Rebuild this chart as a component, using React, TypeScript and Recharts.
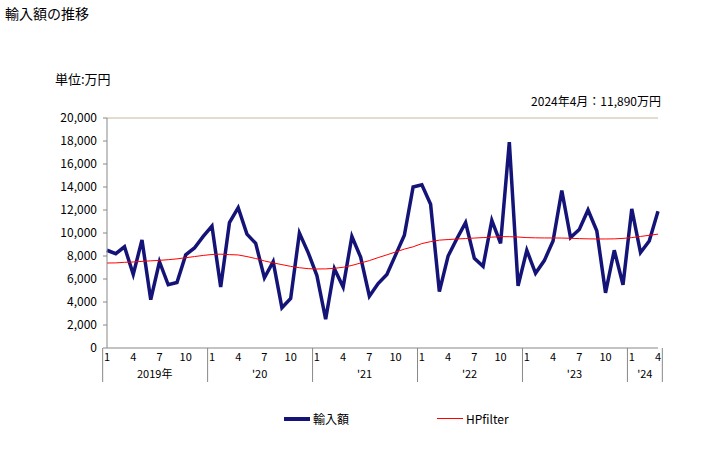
import { LineChart, Line, XAxis, YAxis, ReferenceLine } from "recharts";

// 2019/1 .. 2024/4 monthly imports (万円)
const YEARS = [2019, 2020, 2021, 2022, 2023, 2024];
const MONTH_COUNTS = [12, 12, 12, 12, 12, 4];
const YEAR_LABELS = ["2019年", "'20", "'21", "'22", "'23", "'24"];
const MONTH_TICKS = [1, 4, 7, 10];
const Y_TICKS = [0, 2000, 4000, 6000, 8000, 10000, 12000, 14000, 16000, 18000, 20000];

const IMPORTS = [
  8500, 8200, 8800, 6400, 9400, 4200, 7500, 5500, 5700, 8100, 8700, 9700,
  10600, 5300, 10900, 12200, 9900, 9100, 6100, 7500, 3500, 4300, 10000, 8300,
  6300, 2500, 6900, 5300, 9700, 7900, 4500, 5600, 6400, 8100, 9800, 14000,
  14200, 12500, 4900, 8000, 9500, 10900, 7800, 7100, 11100, 9100, 17900, 5400,
  8500, 6500, 7600, 9300, 13700, 9600, 10300, 12000, 10200, 4800, 8500, 5500,
  12100, 8300, 9300, 11890,
];

const HP = [
  7390, 7400, 7450, 7480, 7530, 7580, 7620, 7680, 7750, 7850, 7950, 8050,
  8130, 8160, 8120, 8090, 7950, 7780, 7570, 7400, 7250, 7100, 6980, 6900,
  6870, 6880, 6930, 7020, 7180, 7390, 7600, 7860, 8100, 8350, 8600, 8800,
  9080, 9250, 9380, 9430, 9480, 9520, 9560, 9600, 9640, 9680, 9680, 9650,
  9600, 9580, 9570, 9570, 9560, 9540, 9510, 9490, 9480, 9480, 9490, 9530,
  9600, 9700, 9800, 9900,
];

const rows: { key: string; month: number; yearIdx: number }[] = [];
YEARS.forEach((y, yi) => {
  for (let m = 1; m <= MONTH_COUNTS[yi]; m++) rows.push({ key: `${y}-${m}`, month: m, yearIdx: yi });
});
const data = rows.map((r, i) => ({ ...r, imports: IMPORTS[i], hp: HP[i] }));

const W = 728;
const H = 450;
const PLOT_L = 103;
const PLOT_R = 658;
const PLOT_T = 118;
const PLOT_B = 348;
const AXIS_H = 34;
const HALF = (PLOT_R - PLOT_L) / data.length / 2;
const FONT = "'Noto Sans CJK JP', 'Liberation Sans', sans-serif";
const AXIS_GRAY = "#888888";

function MonthTick(props: any) {
  const { x, index } = props;
  const d = data[index];
  if (!d) return null;
  const left = x - HALF;
  const parts: any[] = [];
  if (MONTH_TICKS.includes(d.month)) {
    parts.push(
      <text key="m" x={x} y={PLOT_B + 13} textAnchor="middle" fontSize={11} fill="#000" fontFamily={FONT}>
        {d.month}
      </text>
    );
  }
  if (d.month === 1) {
    const w = MONTH_COUNTS[d.yearIdx] * HALF * 2;
    parts.push(<line key="s" x1={left} x2={left} y1={PLOT_B} y2={PLOT_B + AXIS_H} stroke={AXIS_GRAY} />);
    parts.push(
      <text key="y" x={left + w / 2} y={PLOT_B + 30} textAnchor="middle" fontSize={11} fill="#000" fontFamily={FONT}>
        {YEAR_LABELS[d.yearIdx]}
      </text>
    );
  }
  if (index === data.length - 1) {
    parts.push(<line key="e" x1={x + HALF} x2={x + HALF} y1={PLOT_B} y2={PLOT_B + AXIS_H} stroke={AXIS_GRAY} />);
  }
  return <g>{parts}</g>;
}

export default function App() {
  return (
    <div style={{ position: "absolute", left: 0, top: 0, width: W, height: H, background: "#fff", fontFamily: FONT }}>
      <div style={{ position: "absolute", left: 5, top: 3, fontSize: 14 }}>輸入額の推移</div>
      <div style={{ position: "absolute", left: 55, top: 69, fontSize: 13 }}>単位:万円</div>
      <div style={{ position: "absolute", right: W - 661, top: 92, fontSize: 12 }}>2024年4月：11,890万円</div>

      <LineChart
        width={W}
        height={H}
        data={data}
        margin={{ top: PLOT_T, right: W - PLOT_R, bottom: H - PLOT_B - AXIS_H, left: 4 }}
      >
        <XAxis
          dataKey="key"
          interval={0}
          tickLine={false}
          height={AXIS_H}
          axisLine={{ stroke: AXIS_GRAY }}
          tick={<MonthTick />}
        />
        <YAxis
          width={PLOT_L}
          domain={[0, 20000]}
          ticks={Y_TICKS}
          interval={0}
          axisLine={{ stroke: AXIS_GRAY }}
          tickLine={{ stroke: AXIS_GRAY }}
          tickSize={4}
          tickMargin={6}
          tickFormatter={(v) => v.toLocaleString("en-US")}
          tick={{ fontSize: 12, fill: "#000", fontFamily: FONT }}
        />
        <YAxis yAxisId="r" orientation="right" width={0} tick={false} tickLine={false} axisLine={{ stroke: "#c4bc96" }} />
        <ReferenceLine y={20000} stroke="#c4bc96" />
        <Line
          dataKey="imports"
          stroke="#141478"
          strokeWidth={3.5}
          dot={false}
          isAnimationActive={false}
        />
        <Line dataKey="hp" stroke="#ff0000" strokeWidth={1} dot={false} isAnimationActive={false} />
      </LineChart>

      <div style={{ position: "absolute", left: 284, top: 410, display: "flex", alignItems: "center", fontSize: 12 }}>
        <span style={{ display: "inline-block", width: 26, height: 4, background: "#141478", marginRight: 3 }} />
        輸入額
      </div>
      <div style={{ position: "absolute", left: 437, top: 410, display: "flex", alignItems: "center", fontSize: 12 }}>
        <span style={{ display: "inline-block", width: 26, height: 1.5, background: "#ff0000", marginRight: 3 }} />
        HPfilter
      </div>
    </div>
  );
}
